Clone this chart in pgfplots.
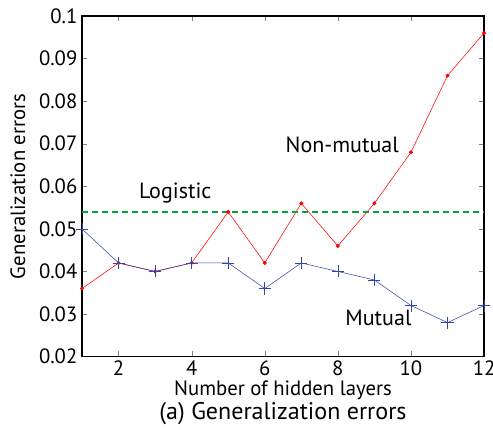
\documentclass[border=0pt]{standalone}
\usepackage{fontspec}
\setmainfont{PT Sans}
\usepackage{pgfplots}
\pgfplotsset{compat=1.18}
\usetikzlibrary{calc}
\definecolor{mublue}{RGB}{50,70,170}
\definecolor{loggreen}{RGB}{0,165,60}
\begin{document}
\begin{tikzpicture}[font=\fontsize{15.5}{18}\selectfont]
\begin{axis}[
    width=301pt, height=255pt, scale only axis,
    xmin=1, xmax=12, ymin=0.02, ymax=0.1,
    xtick={2,4,...,12},
    ytick={0.02,0.03,...,0.1},
    yticklabels={0.02,0.03,0.04,0.05,0.06,0.07,0.08,0.09,0.1},
    xticklabels={2,4,6,8,10,12},
    tick align=inside,
    tick pos=both,
    major tick length=4pt,
    xticklabel style={inner sep=0.5pt, yshift=-2.5pt},
    axis line style={line width=1.2pt},
    clip=false,
]
\addplot[red, mark=*, mark size=1.3pt] coordinates {
    (1,0.036) (2,0.042) (3,0.040) (4,0.042) (5,0.054) (6,0.042)
    (7,0.056) (8,0.046) (9,0.056) (10,0.068) (11,0.086) (12,0.096)};
\addplot[mublue, mark=+, mark size=4.5pt] coordinates {
    (1,0.050) (2,0.042) (3,0.040) (4,0.042) (5,0.042) (6,0.036)
    (7,0.042) (8,0.040) (9,0.038) (10,0.032) (11,0.028) (12,0.032)};
\addplot[draw=loggreen, line width=1pt, dash pattern=on 4.5pt off 3pt] coordinates {(1,0.054) (12,0.054)};
\node[font=\fontsize{16.5}{19}\selectfont] at (axis cs:8.12,0.0697) {Non-mutual};
\node[font=\fontsize{16.5}{19}\selectfont] at (axis cs:3.55,0.0585) {Logistic};
\node[font=\fontsize{16.5}{19}\selectfont] at (axis cs:9.11,0.0291) {Mutual};
\coordinate (bl) at (rel axis cs:0,0);
\coordinate (tr) at (rel axis cs:1,1);
\end{axis}
\node[inner sep=0.5pt] at ([yshift=-25pt]$(bl)!0.5!(bl-|tr)$) {Number of hidden layers};
\node[inner sep=0.5pt, font=\fontsize{18}{21}\selectfont] at ([yshift=-43pt]$(bl)!0.5!(bl-|tr)$) {(a) Generalization errors};
\node[rotate=90] at ([xshift=-48pt]$(bl)!0.5!(bl|-tr)$) {Generalization errors};
\pgfresetboundingbox
\path[use as bounding box] ([xshift=-61.4pt,yshift=-54.6pt]bl) rectangle ([xshift=6.7pt,yshift=12pt]tr);
\end{tikzpicture}
\end{document}
